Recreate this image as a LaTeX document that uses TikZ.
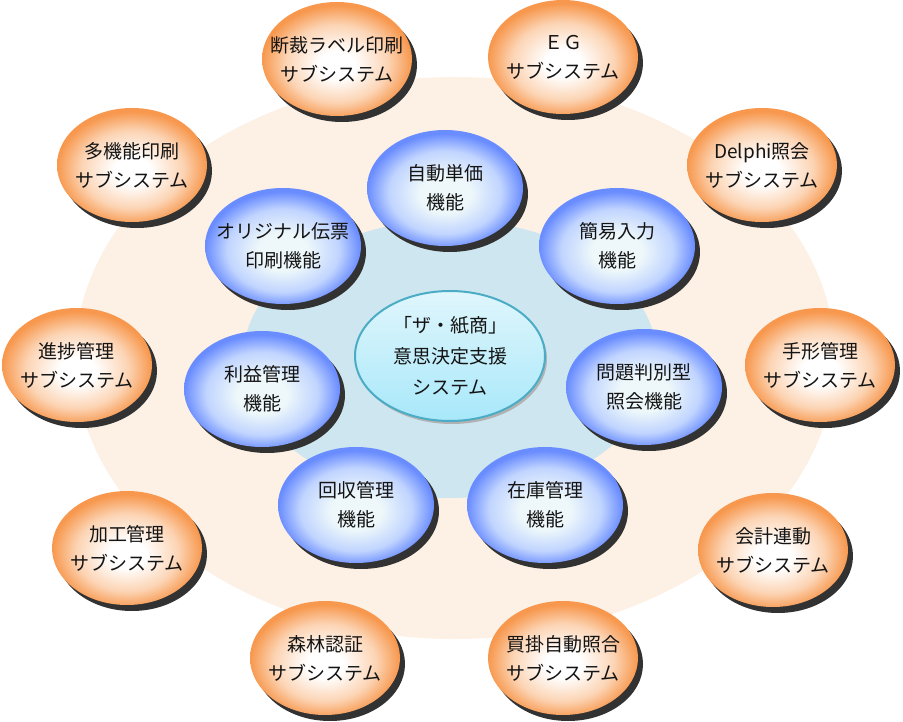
\documentclass[tikz,border=0pt]{standalone}
\usepackage{fontspec}
\newfontfamily\jpfont{Noto Sans CJK JP}
\usetikzlibrary{shapes.geometric}
\definecolor{peach}{RGB}{253,240,228}
\definecolor{innerblue}{RGB}{206,230,240}
\definecolor{orangeedge}{RGB}{247,152,78}
\definecolor{orangemid}{RGB}{252,212,180}
\definecolor{blueedge}{RGB}{105,140,255}
\definecolor{bluemid}{RGB}{192,212,255}
\definecolor{bluecore}{RGB}{238,248,250}
\definecolor{centerborder}{RGB}{75,172,198}
\definecolor{centertop}{RGB}{224,246,252}
\definecolor{centerbottom}{RGB}{168,232,250}
\definecolor{shadowc}{RGB}{50,50,50}
\definecolor{textc}{RGB}{20,20,20}
\pgfdeclareradialshading{orangeball}{\pgfpoint{0bp}{-3bp}}{color(0bp)=(white); color(6bp)=(white); color(17bp)=(orangemid); color(25bp)=(orangeedge); color(50bp)=(orangeedge)}
\pgfdeclareradialshading{blueball}{\pgfpoint{0bp}{-3bp}}{color(0bp)=(bluecore); color(8bp)=(bluecore); color(18bp)=(bluemid); color(25bp)=(blueedge); color(50bp)=(blueedge)}
\tikzset{
  x=1pt, y=-1pt,
  bodytext/.style={align=center, text=textc, inner sep=0pt,
    font=\jpfont\fontsize{19}{29}\selectfont},
  subsys/.style={ellipse, minimum width=150pt, minimum height=114pt, inner sep=0pt,
    shade, shading=orangeball, label={[bodytext]center:#1}},
  func/.style={ellipse, minimum width=156pt, minimum height=116pt, inner sep=0pt,
    shade, shading=blueball, label={[bodytext]center:#1}},
  core/.style={ellipse, minimum width=190pt, minimum height=130pt, inner sep=0pt,
    top color=centertop, bottom color=centerbottom, draw=centerborder, line width=2pt,
    label={[bodytext, font=\jpfont\fontsize{19}{31}\selectfont]center:#1}},
}
\begin{document}
\begin{tikzpicture}
\useasboundingbox (0,0) rectangle (903,722);
\fill[peach] (455,358) ellipse [x radius=380, y radius=281];
\fill[innerblue] (450,359) ellipse [x radius=207, y radius=139];
% positions
\coordinate (p-dansai) at (337,59);
\coordinate (p-eg) at (563,57);
\coordinate (p-delphi) at (762,165);
\coordinate (p-tegata) at (820,365);
\coordinate (p-kaikei) at (773,550);
\coordinate (p-kaikake) at (563,658);
\coordinate (p-shinrin) at (325,658);
\coordinate (p-kako) at (127,548);
\coordinate (p-shinchoku) at (77,365);
\coordinate (p-takino) at (132,165);
\coordinate (p-jido) at (445,188);
\coordinate (p-kani) at (617,246);
\coordinate (p-mondai) at (644,387);
\coordinate (p-zaiko) at (545,505);
\coordinate (p-kaishu) at (356,505);
\coordinate (p-rieki) at (262,389);
\coordinate (p-original) at (283,246);
\coordinate (p-center) at (450,356);
% shadows
\foreach \p in {dansai,eg,delphi,tegata,kaikei,kaikake,shinrin,kako,shinchoku,takino}
  \fill[shadowc] ([shift={(5,6)}]p-\p) ellipse [x radius=75, y radius=57];
\foreach \p in {jido,kani,mondai,zaiko,kaishu,rieki,original}
  \fill[shadowc] ([shift={(5,6)}]p-\p) ellipse [x radius=78, y radius=58];
\fill[black!30] ([shift={(2,3)}]p-center) ellipse [x radius=95, y radius=65];
% orange subsystems
\node[subsys={断裁ラベル印刷\\サブシステム}] (dansai) at (p-dansai) {};
\node[subsys={ＥＧ\\サブシステム}] (eg) at (p-eg) {};
\node[subsys={Delphi照会\\サブシステム}] (delphi) at (p-delphi) {};
\node[subsys={手形管理\\サブシステム}] (tegata) at (p-tegata) {};
\node[subsys={会計連動\\サブシステム}] (kaikei) at (p-kaikei) {};
\node[subsys={買掛自動照合\\サブシステム}] (kaikake) at (p-kaikake) {};
\node[subsys={森林認証\\サブシステム}] (shinrin) at (p-shinrin) {};
\node[subsys={加工管理\\サブシステム}] (kako) at (p-kako) {};
\node[subsys={進捗管理\\サブシステム}] (shinchoku) at (p-shinchoku) {};
\node[subsys={多機能印刷\\サブシステム}] (takino) at (p-takino) {};
% blue functions
\node[func={自動単価\\機能}] (jido) at (p-jido) {};
\node[func={簡易入力\\機能}] (kani) at (p-kani) {};
\node[func={問題判別型\\照会機能}] (mondai) at (p-mondai) {};
\node[func={在庫管理\\機能}] (zaiko) at (p-zaiko) {};
\node[func={回収管理\\機能}] (kaishu) at (p-kaishu) {};
\node[func={利益管理\\機能}] (rieki) at (p-rieki) {};
\node[func={オリジナル伝票\\印刷機能}] (original) at (p-original) {};
% center
\node[core={「ザ・紙商」\\意思決定支援\\システム}] (center) at (p-center) {};
\end{tikzpicture}
\end{document}
